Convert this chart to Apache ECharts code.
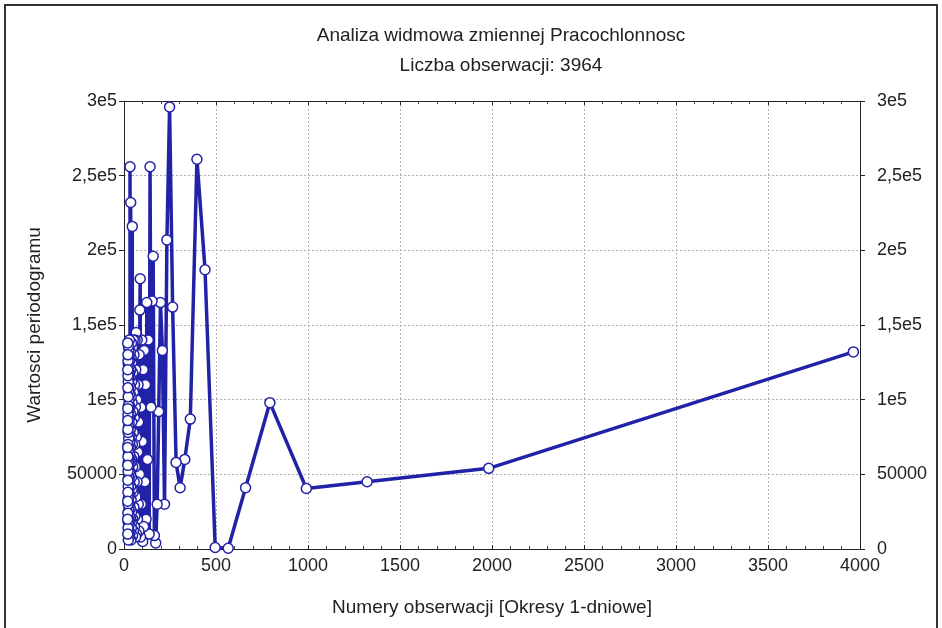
<!DOCTYPE html>
<html>
<head>
<meta charset="utf-8">
<script src="https://cdn.jsdelivr.net/npm/echarts@6/dist/echarts.min.js"></script>
<style>
  html, body { margin: 0; padding: 0; background: #ffffff; }
  #chart { width: 942px; height: 628px; }
</style>
</head>
<body>
<div id="chart"></div>
<script>
// Number of observations in the series (length of the sample)
const N_OBS = 3964;

// Periodogram values (thousands) for harmonics k = 1, 2, 3, ...
// the period of harmonic k is N_OBS / k days
const lowHarmonics = [
  132, 54, 45, 40.5, 98, 41, 0.5, 1, 187, 261,
  87, 60, 41, 58, 162, 296, 207, 30, 133, 165,
  92, 30, 4, 9, 196, 166, 95, 256, 10, 140,
  60, 165, 20, 110, 45, 133, 15, 120, 5, 72,
  140, 30, 95, 8, 181, 160, 50, 130, 12, 85,
  30, 110, 65, 20, 140, 45, 100, 10, 75, 145
];
const midHarmonics = [
  35, 120, 8, 95, 55, 140, 22, 70, 110, 15,
  88, 45, 130, 28, 62, 105, 12, 78, 140, 38,
  92, 20, 118, 55, 9, 135, 70, 216, 40, 98,
  18, 125, 60, 85, 25, 112, 48, 138, 14, 75,
  102, 33, 128, 58, 6, 90, 120, 42, 232, 68,
  20, 108, 50, 132, 27, 80, 115, 11, 95, 62
];
const highHarmonics = [
  256, 36, 104, 72, 18, 126, 52, 88, 30, 118,
  64, 8, 96, 140, 44, 76, 22, 110, 58, 130,
  16, 84, 46, 122, 68, 10, 100, 36, 134, 60,
  26, 92, 114, 40, 74, 12, 106, 54, 128, 30,
  82, 118, 48, 20, 96, 66, 136, 34, 88, 6,
  112, 58, 124, 42, 78, 18, 102, 70, 30, 126,
  52, 90, 14, 116, 62, 38, 130, 80, 24, 108,
  46, 94, 10, 120, 56, 86, 32, 138, 68, 20
];

// Axis tick labels
const xTickLabels = ['0', '500', '1000', '1500', '2000', '2500', '3000', '3500', '4000'];
const yTickLabels = ['0', '50000', '1e5', '1,5e5', '2e5', '2,5e5', '3e5'];

const titleText = 'Analiza widmowa zmiennej Pracochlonnosc';
const subtitleText = 'Liczba obserwacji: 3964';
const xName = 'Numery obserwacji [Okresy 1-dniowe]';
const yName = 'Wartosci periodogramu';

const allValues = lowHarmonics.concat(midHarmonics, highHarmonics);
const points = allValues.map((v, i) => [N_OBS / (i + 1), v * 1000]);

const FONT = 'Liberation Sans, Arial, sans-serif';
const TEXT = '#222';
const LINE = '#2222a8';

const yLabel = v => yTickLabels[Math.round(v / 50000)] ?? '';
const xLabel = v => xTickLabels[Math.round(v / 500)] ?? '';

const axisLine = { show: true, onZero: false, lineStyle: { color: '#222', width: 1 } };
const gridLine = { show: true, lineStyle: { color: '#b0b0b0', type: [2, 2], width: 1 } };

const chart = echarts.init(document.getElementById('chart'), null, { renderer: 'canvas' });
chart.setOption({
  backgroundColor: '#ffffff',
  animation: false,
  title: [
    { text: titleText, left: 496, top: 21, textAlign: 'center',
      textStyle: { fontFamily: FONT, fontSize: 19, fontWeight: 'normal', color: TEXT } },
    { text: subtitleText, left: 496, top: 51, textAlign: 'center',
      textStyle: { fontFamily: FONT, fontSize: 19, fontWeight: 'normal', color: TEXT } }
  ],
  grid: { left: 124, right: 82, top: 101, bottom: 79, containLabel: false },
  xAxis: [
    {
      type: 'value', position: 'bottom', min: 0, max: 4000, interval: 500,
      name: xName, nameLocation: 'middle', nameGap: 49,
      nameTextStyle: { fontFamily: FONT, fontSize: 19, color: TEXT },
      axisLine: axisLine,
      axisTick: { show: true, inside: true, length: 4, lineStyle: { color: '#222' } },
      minorTick: { show: true, splitNumber: 5, length: 3, lineStyle: { color: '#444' } },
      axisLabel: { formatter: xLabel, fontFamily: FONT, fontSize: 18, color: TEXT, margin: 8 },
      splitLine: gridLine
    },
    {
      type: 'value', position: 'top', min: 0, max: 4000, interval: 500,
      axisLine: axisLine,
      axisTick: { show: true, inside: true, length: 4, lineStyle: { color: '#222' } },
      minorTick: { show: true, splitNumber: 5, length: 3, lineStyle: { color: '#444' } },
      axisLabel: { show: false },
      splitLine: { show: false }
    }
  ],
  yAxis: [
    {
      type: 'value', position: 'left', min: 0, max: 300000, interval: 50000,
      name: yName, nameLocation: 'middle', nameGap: 80, nameRotate: 90,
      nameTextStyle: { fontFamily: FONT, fontSize: 19, color: TEXT },
      axisLine: axisLine,
      axisTick: { show: true, inside: false, length: 5, lineStyle: { color: '#222' } },
      axisLabel: { formatter: yLabel, fontFamily: FONT, fontSize: 18, color: TEXT, margin: 7 },
      splitLine: gridLine
    },
    {
      type: 'value', position: 'right', min: 0, max: 300000, interval: 50000,
      axisLine: axisLine,
      axisTick: { show: true, inside: false, length: 5, lineStyle: { color: '#222' } },
      axisLabel: { formatter: yLabel, fontFamily: FONT, fontSize: 18, color: TEXT, margin: 17 },
      splitLine: { show: false }
    }
  ],
  graphic: [
    { type: 'rect', shape: { x: 5, y: 5, width: 932, height: 640 },
      style: { fill: 'none', stroke: '#333', lineWidth: 2 }, silent: true }
  ],
  series: [
    {
      type: 'line',
      xAxisIndex: 0,
      yAxisIndex: 0,
      data: points,
      lineStyle: { color: LINE, width: 3.5 },
      itemStyle: { color: '#ffffff', borderColor: LINE, borderWidth: 1.5 },
      symbol: 'circle',
      symbolSize: 10,
      showSymbol: true,
      clip: false,
      z: 3
    }
  ]
});
</script>
</body>
</html>
